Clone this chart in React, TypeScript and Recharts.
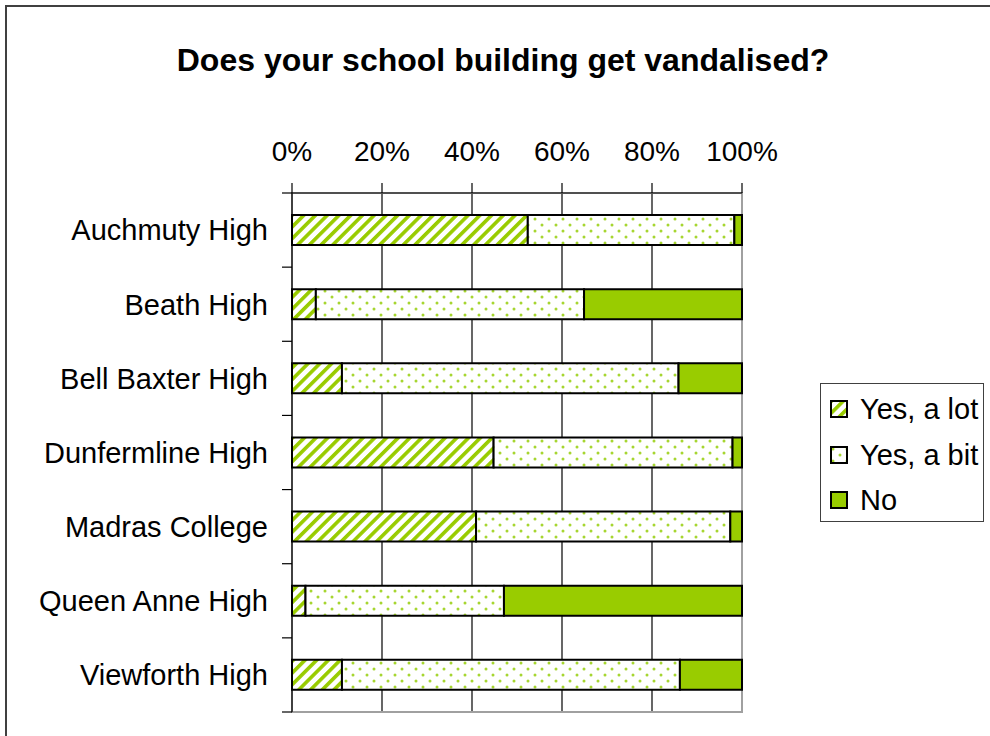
import React from 'react';
import { BarChart, Bar, XAxis, YAxis, CartesianGrid, ReferenceArea, Legend } from 'recharts';

const categories = ['Auchmuty High', 'Beath High', 'Bell Baxter High', 'Dunfermline High', 'Madras College', 'Queen Anne High', 'Viewforth High'];
const yesALot = [52.4, 5.3, 11.1, 44.8, 40.9, 3.0, 11.1];
const yesABit = [45.9, 59.6, 74.8, 53.1, 56.5, 44.1, 75.1];
const no = [1.7, 35.1, 14.1, 2.1, 2.6, 52.9, 13.8];
const xTicks = [0, 20, 40, 60, 80, 100];
const seriesNames = ['Yes, a lot', 'Yes, a bit', 'No'];
const title = 'Does your school building get vandalised?';

const data = categories.map((c, i) => ({ name: c, lot: yesALot[i], bit: yesABit[i], no: no[i] }));

const W = 990;
const H = 736;
const MARGIN = { top: 133, right: 248, bottom: 24, left: 12 };
const X_AXIS_H = 60;
const Y_AXIS_W = 280;
const Y_TICK_MARGIN = 24;
const BAND = (H - MARGIN.top - X_AXIS_H - MARGIN.bottom) / categories.length;
const GREEN = '#99CC00';
const FONT = '"Liberation Sans", Arial, Helvetica, sans-serif';

function Patterns({ prefix }: { prefix: string }) {
  return (
    <defs>
      <pattern id={`${prefix}stripes`} patternUnits="userSpaceOnUse" width="8.3" height="8.3" patternTransform="rotate(45)">
        <rect x="0" y="0" width="8.3" height="8.3" fill="#fff" />
        <rect x="0" y="0" width="3.6" height="8.3" fill={GREEN} />
      </pattern>
      <pattern id={`${prefix}dots`} patternUnits="userSpaceOnUse" width="14" height="12">
        <rect x="0" y="0" width="14" height="12" fill="#fff" />
        <circle cx="3" cy="3" r="1.5" fill="#A6D630" />
        <circle cx="10" cy="9" r="1.5" fill="#A6D630" />
      </pattern>
    </defs>
  );
}

function YTick(props: any) {
  const { x, y, payload, index } = props;
  const axisX = x + Y_TICK_MARGIN;
  const half = BAND / 2;
  return (
    <g>
      <text x={x} y={y} dy="0.355em" textAnchor="end" fontSize={29} fontFamily={FONT} fill="#000">
        {payload.value}
      </text>
      <line x1={axisX - 10} x2={axisX} y1={y - half} y2={y - half} stroke="#000" strokeWidth={1.2} />
      {index === categories.length - 1 && (
        <line x1={axisX - 10} x2={axisX} y1={y + half} y2={y + half} stroke="#000" strokeWidth={1.2} />
      )}
    </g>
  );
}

const fills = ['url(#lgstripes)', 'url(#lgdots)', GREEN];

function LegendBox() {
  return (
    <div
      style={{
        width: 164,
        height: 139,
        border: '1px solid #404040',
        boxSizing: 'border-box',
        background: '#fff',
        fontFamily: FONT,
        fontSize: 29,
        color: '#000',
        paddingTop: 16,
        paddingLeft: 9,
      }}
    >
      {seriesNames.map((n, i) => (
        <div key={n} style={{ display: 'flex', alignItems: 'center', height: 18, marginBottom: i < 2 ? 27.5 : 0 }}>
          <svg width={18} height={18} style={{ flex: 'none' }}>
            <Patterns prefix="lg" />
            <rect x={1} y={1} width={16} height={16} fill={fills[i]} stroke="#000" strokeWidth={2} />
          </svg>
          <span style={{ marginLeft: 12, lineHeight: '18px', whiteSpace: 'nowrap' }}>{n}</span>
        </div>
      ))}
    </div>
  );
}

export default function App() {
  return (
    <div style={{ position: 'absolute', left: 0, top: 0, width: W, height: H, overflow: 'hidden', background: '#fff' }}>
      <div
        style={{
          position: 'absolute',
          left: 5,
          top: 5,
          width: 1100,
          height: 1000,
          borderLeft: '2px solid #404040',
          borderTop: '2px solid #404040',
        }}
      />
      <div
        style={{
          position: 'absolute',
          left: 0,
          width: 1006,
          top: 44,
          textAlign: 'center',
          fontFamily: FONT,
          fontWeight: 'bold',
          fontSize: 32,
          lineHeight: '32px',
          color: '#000',
        }}
      >
        {title}
      </div>
      <div style={{ position: 'absolute', left: 0, top: 0 }}>
        <BarChart width={W} height={H} data={data} layout="vertical" margin={MARGIN} barCategoryGap={0}>
          <Patterns prefix="" />
          <CartesianGrid horizontal={false} vertical={true} stroke="#000" strokeWidth={1.2} />
          <ReferenceArea x1={0} x2={100} fill="none" stroke="#A0A0A0" strokeWidth={2} ifOverflow="visible" />
          <XAxis
            type="number"
            orientation="top"
            domain={[0, 100]}
            ticks={xTicks}
            height={X_AXIS_H}
            tickFormatter={(v: number) => `${v}%`}
            tickSize={10}
            tickMargin={22}
            axisLine={{ stroke: '#000', strokeWidth: 1.2 }}
            tickLine={{ stroke: '#000', strokeWidth: 1.2 }}
            tick={{ fontSize: 28, fontFamily: FONT, fill: '#000' }}
            interval={0}
          />
          <YAxis
            type="category"
            dataKey="name"
            width={Y_AXIS_W}
            tickSize={0}
            tickMargin={Y_TICK_MARGIN}
            tickLine={false}
            axisLine={{ stroke: '#000', strokeWidth: 1.2 }}
            tick={<YTick />}
            interval={0}
          />
          <Bar dataKey="lot" name={seriesNames[0]} stackId="a" fill="url(#stripes)" stroke="#000" strokeWidth={2} barSize={30} isAnimationActive={false} />
          <Bar dataKey="bit" name={seriesNames[1]} stackId="a" fill="url(#dots)" stroke="#000" strokeWidth={2} barSize={30} isAnimationActive={false} />
          <Bar dataKey="no" name={seriesNames[2]} stackId="a" fill={GREEN} stroke="#000" strokeWidth={2} barSize={30} isAnimationActive={false} />
          <Legend
            layout="vertical"
            align="center"
            verticalAlign="middle"
            content={<LegendBox />}
            wrapperStyle={{ left: 820, top: 383, width: 164, height: 139 }}
          />
        </BarChart>
      </div>
    </div>
  );
}
